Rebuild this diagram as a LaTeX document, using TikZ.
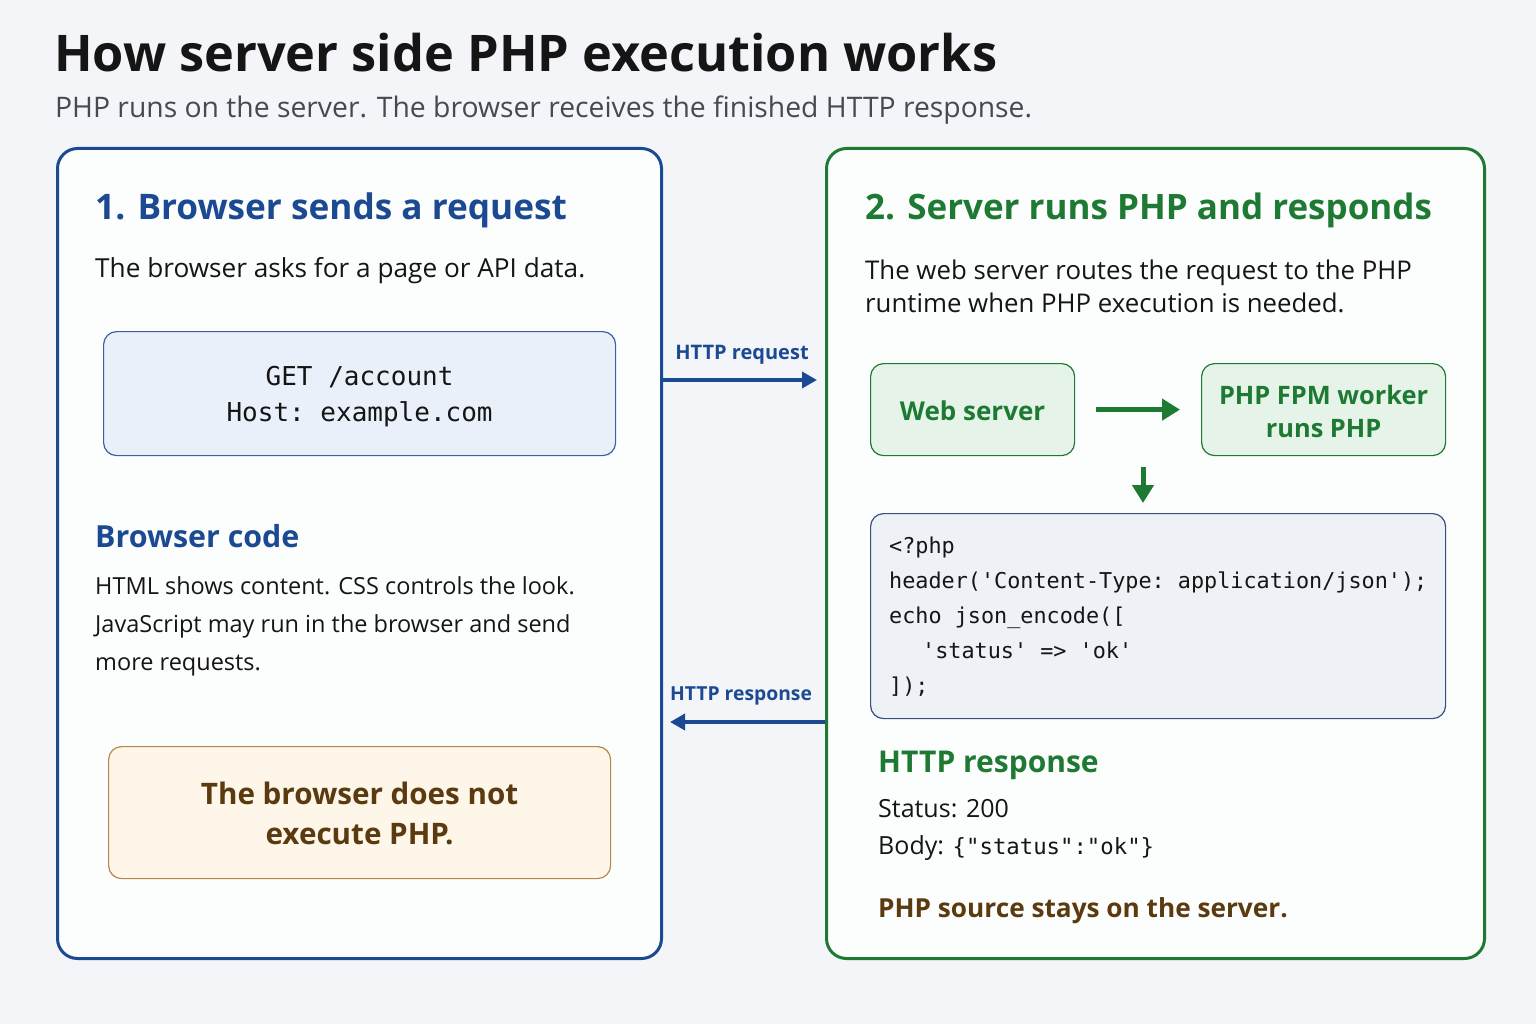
\documentclass[tikz,border=0pt]{standalone}
\usepackage{fontspec}
\setmainfont{Open Sans}
\setmonofont{DejaVu Sans Mono}
\usetikzlibrary{arrows.meta}
\definecolor{bg}{HTML}{F3F5F8}
\definecolor{navy}{HTML}{1B4A93}
\definecolor{grn}{HTML}{1E7A33}
\definecolor{brn}{HTML}{5A3A0E}
\definecolor{ink}{HTML}{151515}
\definecolor{sub}{HTML}{454A50}
\definecolor{reqfill}{HTML}{E9F0F9}
\definecolor{reqline}{HTML}{3D5EA6}
\definecolor{codefill}{HTML}{EEF1F6}
\definecolor{codeline}{HTML}{3A4F80}
\definecolor{gfill}{HTML}{E6F3E8}
\definecolor{wfill}{HTML}{FDF6E9}
\definecolor{wline}{HTML}{B8874B}
\definecolor{panelfill}{HTML}{FCFDFD}
\tikzset{
  panel/.style={rounded corners=20pt, line width=3pt, fill=panelfill, anchor=north west},
  box/.style={rounded corners=13pt, line width=1.2pt, anchor=north west},
  txt/.style={anchor=west, inner sep=0pt, align=left},
  ctxt/.style={inner sep=0pt, align=center},
  conn/.style={line width=3.5pt, -{Triangle[length=15pt,width=16pt]}},
  gconn/.style={line width=5pt, -{Triangle[length=18pt,width=21pt]}},
}
\begin{document}
\begin{tikzpicture}[x=1pt,y=-1pt]
\fill[bg] (0,0) rectangle (1536,1024);
\useasboundingbox (0,0) rectangle (1536,1024);

% title
\node[txt, text=ink, font=\fontsize{50.5}{56}\selectfont\bfseries] (title) at (54,53) {How server side PHP execution works};
\node[txt, text=sub, font=\fontsize{28.3}{32}\selectfont] (subtitle) at (55,110) {PHP runs on the server. The browser receives the finished HTTP response.};

% panels
\node[panel, draw=navy, minimum width=604pt, minimum height=810pt] (left) at (56,147) {};
\node[panel, draw=grn, minimum width=658pt, minimum height=810pt] (right) at (825,147) {};

% left content
\node[txt, text=navy, font=\fontsize{35.2}{40}\selectfont\bfseries] (lh) at (95,210) {1. Browser sends a request};
\node[txt, text=ink, font=\fontsize{26.2}{30}\selectfont] (ld) at (95,271) {The browser asks for a page or API data.};
\node[box, draw=reqline, fill=reqfill, minimum width=512pt, minimum height=124pt] (req) at (103,331) {};
\node[ctxt, text=ink, font=\fontsize{26}{36}\selectfont\ttfamily, yshift=-3pt] (reqtxt) at (req.center) {GET /account\\Host: example.com};
\node[txt, text=navy, font=\fontsize{30.4}{36}\selectfont\bfseries] (bc) at (95,536) {Browser code};
\node[txt, text=ink, font=\fontsize{23.5}{38}\selectfont] (bct) at (95,626) {HTML shows content. CSS controls the look.\\JavaScript may run in the browser and send\\more requests.};
\node[box, draw=wline, fill=wfill, minimum width=502pt, minimum height=132pt] (warn) at (108,746) {};
\node[ctxt, text=brn, font=\fontsize{29.6}{40}\selectfont\bfseries, yshift=-1pt] (warntxt) at (warn.center) {The browser does not\\execute PHP.};

% right content
\node[txt, text=grn, font=\fontsize{35}{40}\selectfont\bfseries] (rh) at (865,210) {2. Server runs PHP and responds};
\node[txt, text=ink, font=\fontsize{25.8}{33}\selectfont] (rd) at (865,286) {The web server routes the request to the PHP\\runtime when PHP execution is needed.};
\node[box, draw=grn, fill=gfill, minimum width=204pt, minimum height=92pt] (web) at (870,363) {};
\node[ctxt, text=grn, font=\fontsize{26}{32}\selectfont\bfseries, yshift=-1pt] (webtxt) at (web.center) {Web server};
\node[box, draw=grn, fill=gfill, minimum width=244pt, minimum height=92pt] (fpm) at (1201,363) {};
\node[ctxt, text=grn, font=\fontsize{25.4}{33}\selectfont\bfseries, yshift=-2pt] (fpmtxt) at (fpm.center) {PHP FPM worker\\runs PHP};
\node[box, draw=codeline, fill=codefill, minimum width=575pt, minimum height=205pt] (code) at (870,513) {};
\node[txt, text=ink, font=\fontsize{21.8}{35}\selectfont\ttfamily] (codetxt) at (889,617) {<?php\\header('Content-Type: application/json');\\echo json\_encode([\\\hspace*{33pt}'status' => 'ok'\\]);};
\node[txt, text=grn, font=\fontsize{30}{36}\selectfont\bfseries] (resp) at (878,765) {HTTP response};
\node[txt, text=ink, font=\fontsize{25}{30}\selectfont] (status) at (878,809) {Status: 200};
\node[txt, text=ink, font=\fontsize{25}{30}\selectfont] (body) at (878,848) {Body: {\fontsize{22.3}{30}\selectfont\ttfamily \{"status":"ok"\}}};
\node[txt, text=brn, font=\fontsize{26.2}{30}\selectfont\bfseries] (stay) at (878,911) {PHP source stays on the server.};

% connectors
\coordinate (reqy) at (0,380);
\coordinate (respy) at (0,722);
\coordinate (downx) at (1143,0);
\node[ctxt, text=navy, font=\fontsize{20}{22}\selectfont\bfseries] (reqlab) at (742,355) {HTTP request};
\node[ctxt, text=navy, font=\fontsize{19.3}{22}\selectfont\bfseries] (resplab) at (741,696) {HTTP response};
\draw[conn, navy, shorten >=8pt] (left.east |- reqy) -- (right.west |- reqy);
\draw[conn, navy, shorten >=7pt] (right.west |- respy) -- (left.east |- respy);
\draw[gconn, grn, shorten <=21pt, shorten >=21pt] (web.east) -- (fpm.west);
\draw[gconn, grn, shorten <=11pt, shorten >=10pt] (downx |- fpm.south) -- (downx |- code.north);
\end{tikzpicture}
\end{document}
